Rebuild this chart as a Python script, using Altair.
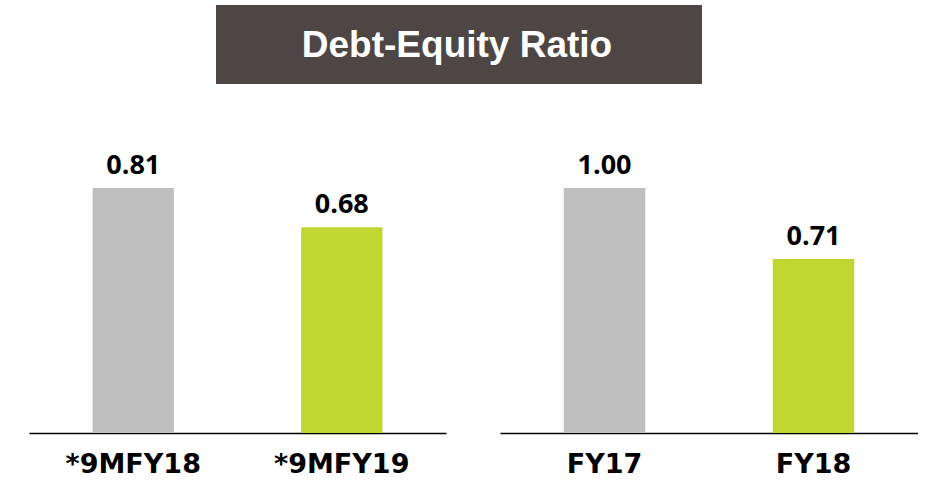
import altair as alt
import pandas as pd

title_text = ["Debt-Equity Ratio"]

left_categories = ["*9MFY18", "*9MFY19"]
left_values = [0.81, 0.68]
left_labels = ["0.81", "0.68"]

right_categories = ["FY17", "FY18"]
right_values = [1.00, 0.71]
right_labels = ["1.00", "0.71"]

colors = ["#bfbfbf", "#bfd730"]

PANEL_H = 333
FILL = 0.736  # fraction of panel height used by the tallest bar


def panel(cats, vals, labels, width):
    df = pd.DataFrame({"cat": cats, "val": vals, "lab": labels, "kind": ["prev", "curr"]})
    ymax = max(vals) / FILL
    x = alt.X(
        "cat:N",
        sort=cats,
        scale=alt.Scale(paddingInner=0.61, paddingOuter=0.305),
        axis=alt.Axis(
            title=None,
            labelAngle=0,
            ticks=False,
            domainColor="#000000",
            domainWidth=1.5,
            labelFont="DejaVu Sans",
            labelFontSize=27,
            labelFontWeight="bold",
            labelColor="#000000",
            labelPadding=18,
        ),
    )
    y = alt.Y("val:Q", scale=alt.Scale(domain=[0, ymax]), axis=None)
    base = alt.Chart(df).encode(x=x, y=y)
    bars = base.mark_bar().encode(
        color=alt.Color("kind:N", scale=alt.Scale(domain=["prev", "curr"], range=colors), legend=None)
    )
    text = base.mark_text(
        font="Open Sans", fontSize=27, fontWeight="bold", color="#000000",
        baseline="alphabetic", dy=-14,
    ).encode(text="lab:N")
    return (bars + text).properties(width=width, height=PANEL_H)


left = panel(left_categories, left_values, left_labels, 417)
right = panel(right_categories, right_values, right_labels, 418)

tdf = pd.DataFrame({"t": title_text})
tbase = alt.Chart(tdf)
tbox = tbase.mark_rect(color="#4e4644").encode(
    x=alt.value(187), x2=alt.value(673), y=alt.value(0), y2=alt.value(79)
)
ttext = tbase.mark_text(
    font="Liberation Sans", fontSize=37, fontWeight="bold", color="#ffffff",
    baseline="middle", align="center",
).encode(x=alt.value(428), y=alt.value(41), text="t:N")
title_chart = (tbox + ttext).properties(width=889, height=79)

chart = alt.vconcat(
    title_chart,
    alt.hconcat(left, right, spacing=54),
    spacing=16,
).properties(
    padding={"left": 29, "top": 5, "right": 0, "bottom": 0},
    background="#ffffff",
).configure_view(stroke=None)

chart.save("out.html", embed_options={"renderer": "svg", "actions": False})
